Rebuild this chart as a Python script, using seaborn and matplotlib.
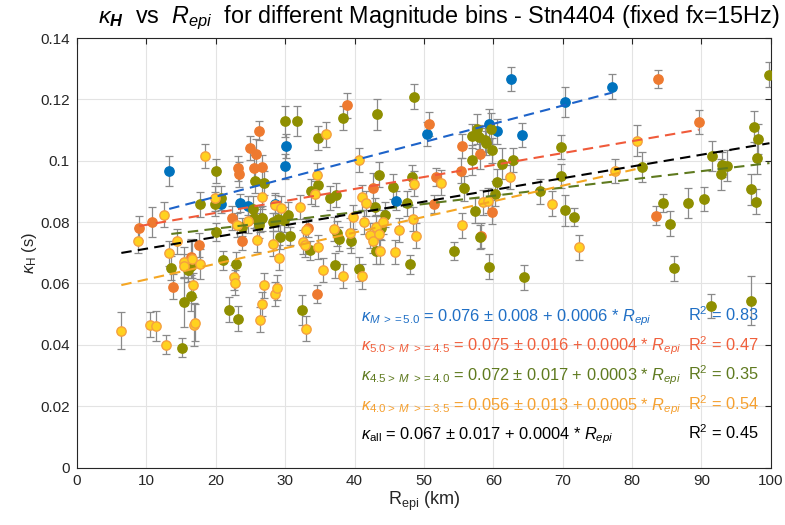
import numpy as np
import pandas as pd
import seaborn as sns
import matplotlib
matplotlib.use('Agg')
import matplotlib.pyplot as plt

sns.set_style("whitegrid")
plt.rcParams['font.family'] = ['Liberation Sans', 'DejaVu Sans']
plt.rcParams['mathtext.fontset'] = 'custom'
plt.rcParams['mathtext.rm'] = 'Liberation Sans'
plt.rcParams['mathtext.it'] = 'Liberation Sans:italic'
plt.rcParams['mathtext.bf'] = 'Liberation Sans:bold:italic'

# -------------------------------Datos

# M >= 5.0
x_m50 = [13.3, 20.7, 23.5, 24.6, 28.6, 30.2, 30.0, 46.0, 50.5, 59.4, 60.6, 62.6, 64.1, 70.3, 77.1]
y_m50 = [0.0967, 0.0860, 0.0862, 0.0854, 0.0860, 0.1048, 0.0982, 0.0870, 0.1087, 0.1120, 0.1096,
         0.1266, 0.1084, 0.1192, 0.1242]
e_m50 = [0.005, 0.003, 0.003, 0.003, 0.003, 0.004, 0.004, 0.003, 0.004, 0.005, 0.004, 0.004, 0.004,
         0.005, 0.004]

# 5.0 > M >= 4.5
x_m45 = [9.0, 10.8, 13.8, 16.4, 17.6, 22.3, 23.2, 23.4, 23.8, 24.9, 25.5, 25.8, 26.3, 26.6, 33.3,
         34.6, 38.9, 42.6, 50.7, 51.4, 51.8, 55.4, 55.5, 58.1, 58.2, 59.8, 83.4, 83.8, 89.6]
y_m45 = [0.0781, 0.0800, 0.0590, 0.0686, 0.0725, 0.0813, 0.0975, 0.0956, 0.0738, 0.1042, 0.0978,
         0.1022, 0.1098, 0.0979, 0.0781, 0.0565, 0.1181, 0.0911, 0.1120, 0.0859, 0.0948, 0.0968,
         0.1048, 0.1022, 0.0756, 0.0833, 0.0821, 0.1266, 0.1126]
e_m45 = [0.004, 0.005, 0.004, 0.006, 0.004, 0.004, 0.004, 0.004, 0.003, 0.004, 0.004, 0.005, 0.003,
         0.004, 0.003, 0.003, 0.004, 0.005, 0.004, 0.003, 0.003, 0.004, 0.004, 0.005, 0.004, 0.004,
         0.003, 0.003, 0.004]

# 4.5 > M >= 4.0
x_m40 = [13.6, 15.1, 15.4, 16.0, 16.4, 16.5, 17.7, 19.9, 20.0, 20.0, 20.8, 21.1, 21.9, 22.9, 23.2,
         23.8, 25.4, 25.5, 25.6, 26.2, 26.4, 26.6, 26.9, 28.2, 29.0, 29.2, 29.9, 30.0, 30.4, 30.7,
         31.7, 32.4, 33.6, 33.8, 34.7, 34.7, 36.4, 37.2, 37.4, 37.5, 37.7, 38.4, 39.5, 40.7, 43.0,
         43.1, 43.3, 43.5, 43.8, 44.4, 45.6, 47.5, 48.0, 48.3, 48.6, 54.4, 55.8, 56.9, 56.9, 57.4,
         57.6, 57.9, 58.1, 58.8, 59.0, 59.4, 59.6, 59.8, 60.3, 60.6, 61.3, 62.8, 64.4, 66.8, 69.8,
         69.8, 70.3, 71.6, 81.5, 84.5, 85.4, 86.1, 88.1, 90.3, 91.4, 91.5, 92.8, 93.0, 93.7, 97.1,
         97.2, 97.6, 97.8, 98.0, 98.1, 99.8]
y_m40 = [0.0651, 0.0391, 0.0539, 0.0644, 0.0657, 0.0559, 0.0858, 0.0859, 0.0967, 0.0767, 0.0878,
         0.0675, 0.0515, 0.0663, 0.0485, 0.0784, 0.0844, 0.0812, 0.0935, 0.0789, 0.0808, 0.0812,
         0.0927, 0.0800, 0.0810, 0.0751, 0.0808, 0.1129, 0.0824, 0.0755, 0.1130, 0.0514, 0.0708,
         0.0900, 0.1074, 0.0922, 0.0878, 0.0659, 0.0888, 0.0763, 0.0745, 0.1140, 0.0738, 0.0647,
         0.0850, 0.0705, 0.1151, 0.0955, 0.0781, 0.0824, 0.0916, 0.0861, 0.0662, 0.0947, 0.1209,
         0.0705, 0.0910, 0.1081, 0.1003, 0.0837, 0.1104, 0.1078, 0.0751, 0.1068, 0.1058, 0.0655,
         0.1105, 0.1034, 0.0893, 0.0932, 0.0991, 0.1002, 0.0620, 0.0900, 0.1045, 0.0951, 0.0838,
         0.0817, 0.0980, 0.0863, 0.0795, 0.0649, 0.0862, 0.0876, 0.0526, 0.1016, 0.0956, 0.0987,
         0.0984, 0.0544, 0.0907, 0.1111, 0.0867, 0.1008, 0.1071, 0.1281]
e_m40 = [0.004, 0.003, 0.008, 0.004, 0.004, 0.005, 0.004, 0.004, 0.004, 0.003, 0.004, 0.003, 0.004,
         0.004, 0.004, 0.003, 0.004, 0.003, 0.004, 0.004, 0.004, 0.004, 0.004, 0.003, 0.004, 0.004,
         0.004, 0.005, 0.004, 0.003, 0.005, 0.005, 0.003, 0.004, 0.004, 0.003, 0.004, 0.004, 0.004,
         0.004, 0.004, 0.004, 0.004, 0.004, 0.003, 0.004, 0.005, 0.004, 0.004, 0.004, 0.004, 0.004,
         0.003, 0.004, 0.004, 0.003, 0.004, 0.004, 0.005, 0.004, 0.005, 0.004, 0.004, 0.004, 0.004,
         0.004, 0.005, 0.004, 0.004, 0.004, 0.005, 0.004, 0.004, 0.004, 0.004, 0.004, 0.005, 0.003,
         0.005, 0.003, 0.004, 0.004, 0.005, 0.004, 0.004, 0.005, 0.005, 0.004, 0.005, 0.008, 0.005,
         0.005, 0.004, 0.005, 0.005, 0.004]

# 4.0 > M >= 3.5
x_m35 = [6.4, 8.8, 10.5, 11.4, 12.5, 12.8, 13.3, 14.4, 15.4, 15.5, 16.6, 16.7, 16.8, 17.0, 17.8,
         18.5, 19.9, 22.7, 22.8, 23.0, 24.6, 26.0, 26.4, 26.6, 26.6, 26.9, 28.3, 28.6, 28.6, 28.9,
         29.1, 29.4, 32.1, 32.6, 32.9, 33.0, 33.0, 34.3, 34.6, 34.8, 35.5, 35.9, 37.1, 38.4, 39.3,
         39.8, 40.6, 41.1, 41.1, 41.4, 41.7, 42.3, 42.6, 43.1, 43.5, 43.7, 44.1, 45.8, 46.4, 48.5,
         48.6, 48.8, 52.5, 55.5, 58.5, 59.3, 62.4, 68.4, 72.4, 77.5, 80.7]
y_m35 = [0.0446, 0.0740, 0.0466, 0.0461, 0.0824, 0.0401, 0.0698, 0.0737, 0.0670, 0.0657, 0.0679,
         0.0595, 0.0465, 0.0472, 0.0663, 0.1016, 0.0877, 0.0620, 0.0603, 0.0790, 0.0805, 0.0743,
         0.0482, 0.0533, 0.0882, 0.0594, 0.0730, 0.0855, 0.0565, 0.0586, 0.0684, 0.0846, 0.0849,
         0.0735, 0.0727, 0.0453, 0.0774, 0.0893, 0.0953, 0.0719, 0.0644, 0.1086, 0.0778, 0.0625,
         0.0764, 0.0816, 0.1002, 0.0881, 0.0623, 0.0800, 0.0861, 0.0757, 0.0738, 0.0783, 0.0760,
         0.0705, 0.0800, 0.0702, 0.0774, 0.0810, 0.0925, 0.0756, 0.0929, 0.0789, 0.0864, 0.0870,
         0.0947, 0.0860, 0.0718, 0.0967, 0.1066]
e_m35 = [0.006, 0.004, 0.004, 0.005, 0.004, 0.003, 0.004, 0.004, 0.005, 0.004, 0.006, 0.004, 0.007,
         0.006, 0.005, 0.004, 0.004, 0.004, 0.004, 0.004, 0.004, 0.004, 0.004, 0.004, 0.004, 0.004,
         0.004, 0.004, 0.004, 0.004, 0.004, 0.004, 0.004, 0.004, 0.004, 0.004, 0.004, 0.004, 0.004,
         0.004, 0.004, 0.004, 0.004, 0.004, 0.005, 0.004, 0.004, 0.004, 0.004, 0.004, 0.004, 0.004,
         0.004, 0.004, 0.004, 0.004, 0.004, 0.004, 0.004, 0.004, 0.004, 0.004, 0.004, 0.004, 0.004,
         0.004, 0.004, 0.004, 0.004, 0.004, 0.005]

# coeficientes de las rectas ajustadas (a + b*Repi), orden: M>=5, 4.5, 4.0, 3.5, todos
fit_a = [0.0764, 0.0752, 0.0725, 0.0562, 0.0675]
fit_b = [0.000594, 0.00039, 0.000268, 0.00051, 0.000383]

# textos de las ecuaciones
sub_labels = ['M\\ >=5.0', '5.0>\\ M\\ >=4.5', '4.5>\\ M\\ >=4.0', '4.0>\\ M\\ >=3.5', 'all']
eq_a = ['0.076', '0.075', '0.072', '0.056', '0.067']
eq_sd = ['0.008', '0.016', '0.017', '0.013', '0.017']
eq_b = ['0.0006', '0.0004', '0.0003', '0.0005', '0.0004']
r2 = ['0.83', '0.47', '0.35', '0.54', '0.45']

x_ticks = [0, 10, 20, 30, 40, 50, 60, 70, 80, 90, 100]
y_ticks = [0, 0.02, 0.04, 0.06, 0.08, 0.1, 0.12, 0.14]
y_ticklabels = ['0', '0.02', '0.04', '0.06', '0.08', '0.1', '0.12', '0.14']

# -------------------------------Estilos
face_cols = ['#0072BD', '#EE7A30', '#8F8F00', '#FFD21F']
edge_cols = ['#0072BD', '#EE7A30', '#8F8F00', '#F5A040']
line_cols = ['#1D63C9', '#F05A3A', '#5F7A1F', '#F5A623', '#000000']
text_cols = ['#1F6FC5', '#F0603C', '#5F7A1F', '#F5A030', '#000000']

grupos = ['M>=5.0', '5.0>M>=4.5', '4.5>M>=4.0', '4.0>M>=3.5']
xs = [x_m50, x_m45, x_m40, x_m35]
ys = [y_m50, y_m45, y_m40, y_m35]
es = [e_m50, e_m45, e_m40, e_m35]

df = pd.concat([pd.DataFrame({'Repi': x, 'kappa': y, 'err': e, 'grupo': g})
                for x, y, e, g in zip(xs, ys, es, grupos)], ignore_index=True)

fig = plt.figure(figsize=(7.85, 5.25), dpi=100)
ax = fig.add_axes([0.098, 0.1095, 0.884, 0.818])

# barras de error
for g in grupos:
    d = df[df['grupo'] == g]
    ax.errorbar(d['Repi'], d['kappa'], yerr=d['err'], fmt='none', ecolor='#8a8a8a',
                elinewidth=0.9, capsize=3, capthick=0.9, zorder=2)

# puntos
for i, g in enumerate(grupos):
    d = df[df['grupo'] == g]
    sns.scatterplot(data=d, x='Repi', y='kappa', color=face_cols[i], edgecolor=edge_cols[i],
                    linewidth=1.0, s=45, ax=ax, zorder=3, legend=False)

# rectas ajustadas
for i in range(5):
    if i < 4:
        d = df[df['grupo'] == grupos[i]]
    else:
        d = df
    xr = np.array([d['Repi'].min(), d['Repi'].max()])
    ax.plot(xr, fit_a[i] + fit_b[i] * xr, color=line_cols[i], lw=1.5,
            dashes=(5, 3), zorder=4)

# ecuaciones
y_txt = [0.0478, 0.0381, 0.0284, 0.0187, 0.0093]
for i in range(5):
    if i < 4:
        lbl = r'$\kappa_{\mathit{' + sub_labels[i] + r'}}$'
    else:
        lbl = r'$\kappa_{\rm all}$'
    ax.text(41.0, y_txt[i], lbl + ' = ' + eq_a[i] + ' \u00b1 ' + eq_sd[i] + ' + ' + eq_b[i]
            + r' * $\mathit{R_{epi}}$', color=text_cols[i], fontsize=11.8, va='baseline',
            ha='left', zorder=5)
    ax.text(88.0, y_txt[i], r'R$^2$ = ' + r2[i], color=text_cols[i], fontsize=11.8,
            va='baseline', ha='left', zorder=5)

ax.set_xlim(0, 100)
ax.set_ylim(0, 0.14)
ax.set_xticks(x_ticks)
ax.set_yticks(y_ticks)
ax.set_yticklabels(y_ticklabels)
ax.tick_params(axis='both', direction='in', length=4, width=0.8, colors='#262626',
               labelsize=11, top=True, right=True, pad=5)
ax.grid(True, color='#e3e3e3', lw=0.8)
for s in ax.spines.values():
    s.set_color('#262626')
    s.set_linewidth(0.8)

ax.set_xlabel(r'R$_{\rm epi}$ (km)', fontsize=13, color='#262626', labelpad=1)
ax.set_ylabel(r'$\kappa_{\rm H}$ (s)', fontsize=12, color='#262626', labelpad=1)

fig.text(0.994, 1 - 18 / 525,
         r'$\kappa_{\mathbf{H}}$  vs  $R_{epi}$  for different Magnitude bins - Stn4404 (fixed fx=15Hz)',
         fontsize=16.8, ha='right', va='center', color='black')

plt.savefig('out.png', dpi=100)
plt.close()
